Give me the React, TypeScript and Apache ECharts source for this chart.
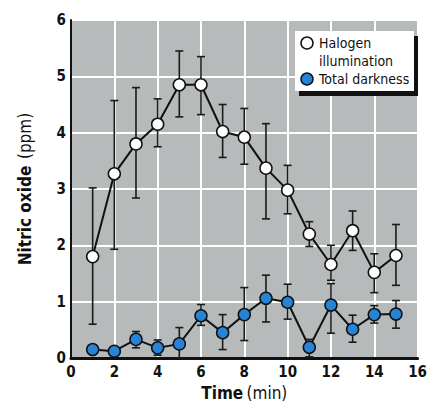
import React, { useEffect, useRef } from "react";
import * as echarts from "echarts";

const times = [1, 2, 3, 4, 5, 6, 7, 8, 9, 10, 11, 12, 13, 14, 15];
const halogenMean = [1.8, 3.27, 3.8, 4.15, 4.85, 4.85, 4.02, 3.92, 3.37, 2.98, 2.2, 1.66, 2.26, 1.52, 1.82];
const halogenLow = [0.6, 1.93, 2.84, 3.75, 4.28, 4.32, 3.56, 3.44, 2.47, 2.56, 1.98, 1.38, 1.91, 1.16, 1.29];
const halogenHigh = [3.02, 4.57, 4.8, 4.6, 5.45, 5.35, 4.5, 4.43, 4.16, 3.42, 2.42, 2.0, 2.61, 1.85, 2.37];
const darkMean = [0.15, 0.12, 0.33, 0.18, 0.25, 0.75, 0.45, 0.77, 1.06, 0.99, 0.19, 0.94, 0.51, 0.77, 0.78];
const darkLow = [0.1, 0.08, 0.18, 0.05, 0.0, 0.58, 0.15, 0.31, 0.64, 0.69, 0.02, 0.44, 0.28, 0.62, 0.53];
const darkHigh = [0.2, 0.16, 0.47, 0.32, 0.54, 0.95, 0.77, 1.25, 1.47, 1.31, 0.33, 1.32, 0.76, 0.93, 1.02];
const xTicks = [0, 2, 4, 6, 8, 10, 12, 14, 16];
const yTicks = [0, 1, 2, 3, 4, 5, 6];
const legendNames = ["Halogen illumination", "Total darkness"];

const FONT = "'Liberation Sans Narrow', 'DejaVu Sans Condensed', 'Arial Narrow', sans-serif";

function errorSeries(low: number[], high: number[]) {
  return {
    type: "custom",
    z: 1,
    silent: true,
    data: times.map((t, i) => [t, low[i], high[i]]),
    renderItem: (params: any, api: any) => {
      const x = api.value(0);
      const lo = api.coord([x, api.value(1)]);
      const hi = api.coord([x, api.value(2)]);
      const hw = 4;
      const style = { stroke: "#1a1a1a", lineWidth: 1.6 };
      return {
        type: "group",
        children: [
          { type: "line", shape: { x1: lo[0], y1: lo[1], x2: hi[0], y2: hi[1] }, style },
          { type: "line", shape: { x1: lo[0] - hw, y1: lo[1], x2: lo[0] + hw, y2: lo[1] }, style },
          { type: "line", shape: { x1: hi[0] - hw, y1: hi[1], x2: hi[0] + hw, y2: hi[1] }, style },
        ],
      };
    },
  };
}

export default function App() {
  const ref = useRef<HTMLDivElement>(null);
  useEffect(() => {
    document.body.style.margin = "0";
    const chart = echarts.init(ref.current!, null, { renderer: "svg" });
    const txt = (text: string, y: number) => ({
      type: "text",
      z: 102,
      x: 319,
      y,
      style: { text, fontFamily: FONT, fontSize: 14, fill: "#111", verticalAlign: "middle" },
    });
    const option: any = {
      animation: false,
      backgroundColor: "#ffffff",
      grid: {
        left: 71,
        top: 20,
        right: 9,
        bottom: 46,
        show: true,
        backgroundColor: "#b7baba",
        borderWidth: 0,
      },
      xAxis: {
        type: "value",
        min: 0,
        max: 16,
        interval: 2,
        name: "{b|Time} {n|(min)}",
        nameLocation: "middle",
        nameGap: 26,
        nameTextStyle: {
          rich: {
            b: { fontFamily: FONT, fontWeight: "bold", fontSize: 17, color: "#111" },
            n: { fontFamily: FONT, fontWeight: "normal", fontSize: 17, color: "#111" },
          },
        },
        axisLine: { show: true, onZero: false, lineStyle: { color: "#111", width: 3 } },
        axisTick: { show: false },
        axisLabel: {
          margin: 6,
          fontFamily: FONT,
          fontWeight: "bold",
          fontSize: 15,
          color: "#111",
          formatter: (v: number) => (xTicks.includes(v) ? String(v) : ""),
        },
        splitLine: { show: true, lineStyle: { color: "#ffffff", width: 2 } },
      },
      yAxis: {
        type: "value",
        min: 0,
        max: 6,
        interval: 1,
        name: "{b|Nitric oxide}  {n|(ppm)}",
        nameLocation: "middle",
        nameGap: 38,
        nameRotate: 90,
        nameTextStyle: {
          rich: {
            b: { fontFamily: FONT, fontWeight: "bold", fontSize: 17, color: "#111" },
            n: { fontFamily: FONT, fontWeight: "normal", fontSize: 17, color: "#111" },
          },
        },
        axisLine: { show: true, onZero: false, lineStyle: { color: "#111", width: 2 } },
        axisTick: { show: false },
        axisLabel: {
          margin: 5,
          fontFamily: FONT,
          fontWeight: "bold",
          fontSize: 15,
          color: "#111",
          formatter: (v: number) => (yTicks.includes(v) ? String(v) : ""),
        },
        splitLine: { show: true, lineStyle: { color: "#ffffff", width: 2 } },
      },
      series: [
        errorSeries(halogenLow, halogenHigh),
        errorSeries(darkLow, darkHigh),
        {
          name: legendNames[0],
          type: "line",
          z: 3,
          data: times.map((t, i) => [t, halogenMean[i]]),
          symbol: "circle",
          symbolSize: 12,
          showAllSymbol: true,
          lineStyle: { color: "#111", width: 2 },
          itemStyle: { color: "#ffffff", borderColor: "#111", borderWidth: 1.5 },
        },
        {
          name: legendNames[1],
          type: "line",
          z: 3,
          data: times.map((t, i) => [t, darkMean[i]]),
          symbol: "circle",
          symbolSize: 12,
          showAllSymbol: true,
          lineStyle: { color: "#111", width: 2 },
          itemStyle: { color: "#2584d6", borderColor: "#111", borderWidth: 1.5 },
        },
      ],
      graphic: [
        { type: "rect", z: 100, shape: { x: 299, y: 36, width: 119, height: 60 }, style: { fill: "#111" } },
        { type: "rect", z: 101, shape: { x: 295, y: 31, width: 119, height: 60 }, style: { fill: "#ffffff" } },
        { type: "circle", z: 102, shape: { cx: 307, cy: 43, r: 6 }, style: { fill: "#ffffff", stroke: "#111", lineWidth: 1.5 } },
        { type: "circle", z: 102, shape: { cx: 307, cy: 79, r: 6 }, style: { fill: "#2584d6", stroke: "#111", lineWidth: 1.5 } },
        txt("Halogen", 43),
        txt("illumination", 61),
        txt("Total darkness", 79),
      ],
    };
    chart.setOption(option);
    return () => chart.dispose();
  }, []);
  return <div ref={ref} style={{ position: "absolute", left: 0, top: 0, width: 430, height: 406 }} />;
}
